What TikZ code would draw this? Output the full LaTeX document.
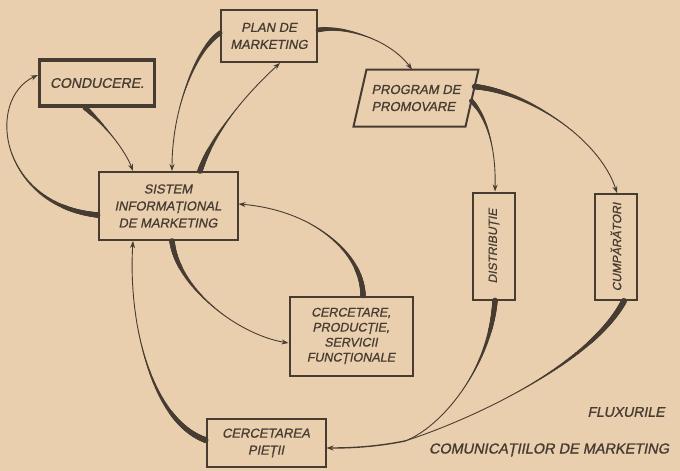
\documentclass[tikz,border=0pt]{standalone}
\usepackage{fontspec}
\newfontfamily\hand{Liberation Sans}[FakeSlant=0.2,FakeBold=0.8]
\newfontfamily\handb{Liberation Sans}[FakeSlant=0.2,FakeBold=1.2]
\usetikzlibrary{arrows.meta,decorations.markings,calc}
\definecolor{paper}{RGB}{234,207,174}
\definecolor{ink}{RGB}{70,60,50}
\begin{document}
\begin{tikzpicture}[x=1pt,y=-1pt,
  box/.style={draw=ink,line width=2pt,text=ink,inner sep=2pt,align=center,font=\hand\fontsize{13}{17}\selectfont},
  flowline/.style={draw=ink,line width=0.9pt},
  flow/.style={flowline,-{Stealth[length=7pt,width=5pt]}},
  taper/.style={postaction={decorate,decoration={markings,mark=between positions 0 and 0.6 step 0.7pt with {\pgfmathsetmacro\tr{max(0,#1*(1-\pgfkeysvalueof{/pgf/decoration/mark info/distance from start}/(0.6*\pgfdecoratedpathlength)))}\fill[ink] (0,0) circle (\tr pt);}}}},
  taper/.default=2.5]
\fill[paper] (0,0) rectangle (680,471);
\useasboundingbox (0,0) rectangle (680,471);

\node[box,line width=3.4pt,minimum width=115,minimum height=46,font=\hand\fontsize{14}{17}\selectfont] (cond) at (97,83) {CONDUCERE.};
\node[box,minimum width=96,minimum height=52] (plan) at (269,36) {PLAN DE\\MARKETING};
\node[box,draw=none,minimum width=110,minimum height=55,align=left] (prog) at (416,98) {PROGRAM DE\\PROMOVARE};
\coordinate (pTL) at ([xshift=6.5pt]prog.north west);
\coordinate (pTR) at ([xshift=6.5pt]prog.north east);
\coordinate (pBR) at ([xshift=-6.5pt]prog.south east);
\coordinate (pBL) at ([xshift=-6.5pt]prog.south west);
\draw[ink,line width=2pt,line join=miter] (pTL) -- (pTR) -- (pBR) -- (pBL) -- cycle;
\node[box,minimum width=139,minimum height=68] (sis) at (168,206) {SISTEM\\INFORMAȚIONAL\\DE MARKETING};
\node[box,minimum width=42,minimum height=107,font=\hand\fontsize{12}{14}\selectfont] (dist) at (494,246) {\rotatebox{90}{DISTRIBUȚIE}};
\node[box,minimum width=42,minimum height=106,font=\hand\fontsize{12}{14}\selectfont] (cump) at (616,247) {\rotatebox{90}{CUMPĂRĂTORI}};
\node[box,minimum width=123,minimum height=79,font=\hand\fontsize{12.5}{15}\selectfont] (cerc) at (351,336) {CERCETARE,\\PRODUCȚIE,\\SERVICII\\FUNCȚIONALE};
\node[box,minimum width=119,minimum height=48] (piet) at (266,443) {CERCETAREA\\PIEȚII};
\node[text=ink,font=\handb\fontsize{14}{16}\selectfont] (flux) at (626,412) {FLUXURILE};
\node[text=ink,font=\handb\fontsize{14.5}{16}\selectfont] (com) at (549,450) {COMUNICAȚIILOR DE MARKETING};

\coordinate (junc) at (405,441);

\draw[flow,taper=2.8] ([yshift=-9pt]sis.west) .. controls (0,205) and (-15,100) .. ([yshift=8pt]cond.west);
\draw[flow,taper=2.5] ([xshift=-12pt]cond.south) .. controls (105,125) and (125,150) .. ([xshift=-35pt]sis.north);
\draw[flow,taper=2.5] ([yshift=3pt]plan.west) .. controls (195,50) and (172,110) .. ([xshift=4pt]sis.north);
\draw[flow,taper=2.8] ([xshift=32pt]sis.north) .. controls (212,135) and (245,95) .. ([xshift=11pt]plan.south);
\draw[flow,taper=2.3] ([yshift=6pt]plan.east) .. controls (345,25) and (390,40) .. ([xshift=-4pt]prog.north);
\draw[flow,taper=2.8] ($(pTR)!0.3!(pBR)$) .. controls (530,92) and (600,140) .. ([xshift=1pt]cump.north);
\draw[flow,taper=2.3] ($(pTR)!0.55!(pBR)$) .. controls (488,118) and (496,150) .. ([xshift=1pt]dist.north);
\draw[flow,taper=2.8] ([xshift=12pt]cerc.north) .. controls (362,250) and (310,210) .. ([yshift=2pt]sis.east);
\draw[flow,taper=2.8] ([xshift=4pt]sis.south) .. controls (178,290) and (240,335) .. ([yshift=-7pt]cerc.west);
\draw[flow,taper=3] ([yshift=3pt]piet.west) .. controls (150,420) and (128,320) .. ([xshift=-35pt]sis.south);
\draw[flowline,taper=2.8] ([xshift=1pt]dist.south) .. controls (490,370) and (440,428) .. (junc);
\draw[flowline,taper=3] ([xshift=8pt]cump.south) .. controls (590,365) and (470,420) .. (junc);
\draw[flow,line width=1.4pt] (junc) .. controls (375,447) and (350,448) .. ([yshift=-5pt]piet.east);
\end{tikzpicture}
\end{document}
